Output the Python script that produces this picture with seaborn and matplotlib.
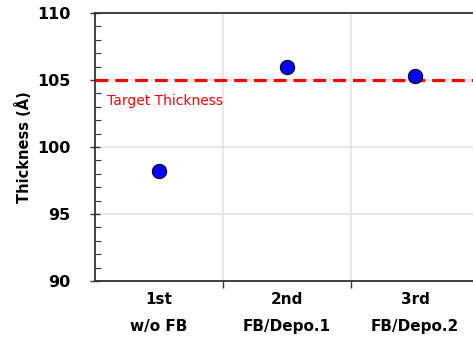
import numpy as np
import pandas as pd
import seaborn as sns
import matplotlib
matplotlib.use("Agg")
import matplotlib.pyplot as plt
from matplotlib.ticker import MultipleLocator, FixedLocator

# data
runs = ["1st", "2nd", "3rd"]
conditions = ["w/o FB", "FB/Depo.1", "FB/Depo.2"]
thickness = [98.2, 106.0, 105.3]
target = 105.0

df = pd.DataFrame({"run": runs, "thickness": thickness})
df["pos"] = np.arange(len(runs))

sns.set_style("white")
plt.rcParams["font.family"] = ["DejaVu Sans"]
plt.rcParams["text.color"] = "black"
plt.rcParams["xtick.color"] = "black"
plt.rcParams["ytick.color"] = "black"
plt.rcParams["axes.labelcolor"] = "black"

fig = plt.figure(figsize=(4.73, 3.43), dpi=100)
ax = fig.add_axes([95 / 473, 62 / 343, 384 / 473, 268 / 343])

# target line
ax.axhline(target, color="#ff0000", lw=2.3, ls=(0, (4, 2.2)), zorder=2)
ax.text(-0.41, 103.4, "Target Thickness", color="#ff0000", fontsize=10, va="center", ha="left")

sns.scatterplot(data=df, x="pos", y="thickness", ax=ax, s=105, color="#0000ff",
                edgecolor="black", linewidth=0.8, zorder=3, legend=False)

ax.set_xlim(-0.5, 2.5)
ax.set_ylim(90, 110)

# boundaries between runs carry the ticks and grid
ax.xaxis.set_major_locator(FixedLocator([0.5, 1.5]))
ax.set_xticklabels([])
ax.xaxis.set_minor_locator(FixedLocator([0, 1, 2]))
ax.set_xticklabels([f"{r}\n{c}" for r, c in zip(runs, conditions)], minor=True,
                   fontsize=11, fontweight="bold", linespacing=1.95)
ax.tick_params(axis="x", which="major", bottom=True, direction="out", length=5, width=1,
               color="#333333")
ax.tick_params(axis="x", which="minor", bottom=True, length=0, pad=8)

ax.yaxis.set_major_locator(MultipleLocator(5))
ax.yaxis.set_minor_locator(MultipleLocator(1))
ax.tick_params(axis="y", which="major", left=True, direction="inout", length=7, width=1,
               labelsize=11.5, color="#333333", pad=14)
ax.tick_params(axis="y", which="minor", left=True, direction="in", length=4, width=0.8,
               color="#333333")
for lab in ax.get_yticklabels():
    lab.set_fontweight("bold")

ax.grid(True, which="major", color="#e3e3e3", lw=1.2)
ax.set_axisbelow(True)

for side in ["left", "bottom", "top"]:
    ax.spines[side].set_color("#333333")
    ax.spines[side].set_linewidth(1.3)
ax.spines["right"].set_visible(False)

ax.set_xlabel("")
ax.set_ylabel("Thickness (Å)", fontsize=10.5, fontweight="bold")
ax.yaxis.set_label_coords(-0.165, 0.5)

fig.savefig("out.png", dpi=100)
